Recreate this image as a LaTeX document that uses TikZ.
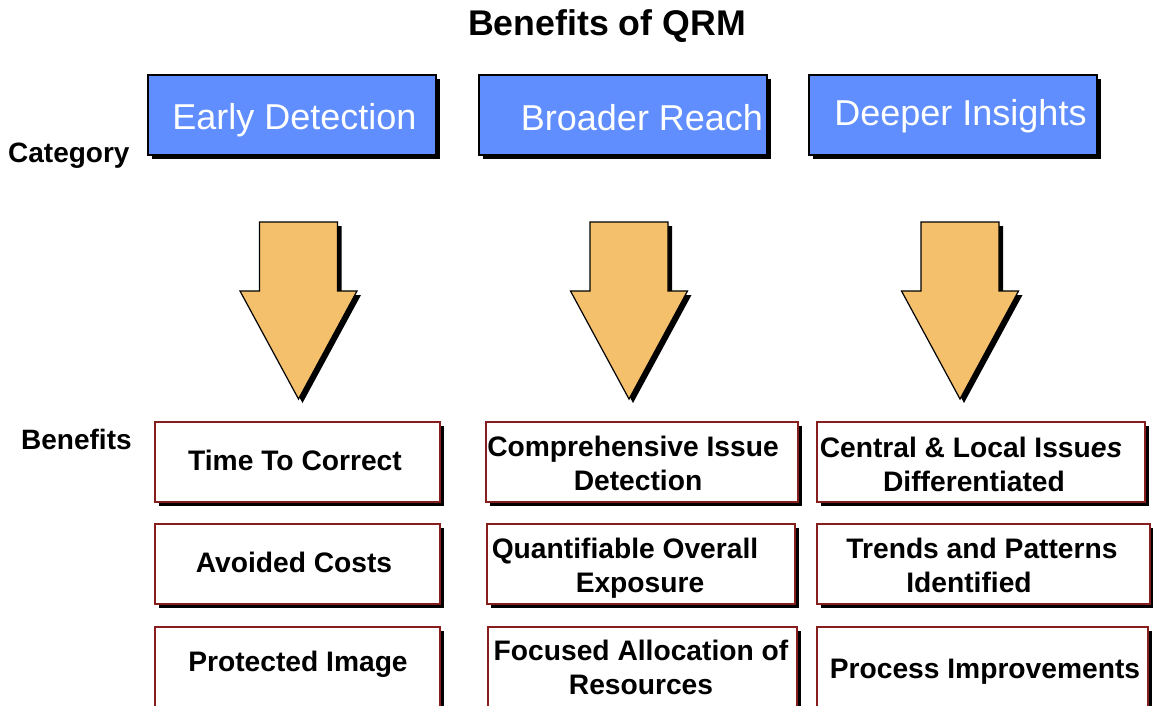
\documentclass[tikz,border=0pt]{standalone}
\usepackage{fontspec}
\setmainfont{Liberation Sans}
\usetikzlibrary{shadows}
\definecolor{catblue}{RGB}{96,142,255}
\definecolor{arrorange}{RGB}{244,192,108}
\definecolor{boxred}{RGB}{135,30,30}
\tikzset{
  catbox/.style={rectangle, fill=catblue, draw=black, line width=1.3pt,
    minimum width=288pt, minimum height=80pt, inner sep=0pt,
    drop shadow={shadow xshift=4pt, shadow yshift=-4pt, fill=black, opacity=1}},
  cattext/.style={anchor=base, text=white, font=\fontsize{36}{40}\selectfont, inner sep=0pt},
  benbox/.style={rectangle, fill=white, draw=boxred, line width=1.2pt,
    minimum height=80pt, inner sep=0pt,
    drop shadow={shadow xshift=4pt, shadow yshift=-4pt, fill=black, opacity=1}},
  bentext/.style={anchor=base, align=center, font=\bfseries\fontsize{28.2}{34}\selectfont, inner sep=0pt},
  sidelabel/.style={anchor=base west, font=\bfseries\fontsize{28}{32}\selectfont, inner sep=0pt},
  downarr/.pic={
    \fill[black] (-35,4) -- (43,4) -- (43,73) -- (62.5,73) -- (4,181) -- (-54.5,73) -- (-35,73) -- cycle;
    \filldraw[fill=arrorange, draw=black, line width=1.2pt, line join=miter]
      (-39,0) -- (39,0) -- (39,69) -- (58.5,69) -- (0,177) -- (-58.5,69) -- (-39,69) -- cycle;
  }
}
\begin{document}
\begin{tikzpicture}[x=1pt,y=-1pt]
\useasboundingbox[fill=white] (0,0) rectangle (1153,705);
\begin{scope}
\clip (0,0) rectangle (1153,705);
% title
\node[anchor=base, font=\bfseries\fontsize{35.7}{40}\selectfont, inner sep=0pt] (title) at (607,35) {Benefits of QRM};
% side labels
\node[sidelabel] (lcat) at (8,162) {Category};
\node[sidelabel] (lben) at (21,449) {Benefits};
% category boxes
\node[catbox] (c1) at (292,115) {};
\node[catbox] (c2) at (623,115) {};
\node[catbox] (c3) at (953,115) {};
\node[cattext] (c1t) at (294.5,129) {Early Detection};
\node[cattext] (c2t) at (642,130) {Broader Reach};
\node[cattext] (c3t) at (960.5,125) {Deeper Insights};
% arrows
\pic (a1) at (298.5,222) {downarr};
\pic (a2) at (629,222) {downarr};
\pic (a3) at (960,222) {downarr};
% benefit boxes
\node[benbox, minimum width=285pt] (b11) at (297.5,462) {};
\node[benbox, minimum width=285pt] (b12) at (297.5,564) {};
\node[benbox, minimum width=285pt] (b13) at (297.5,667) {};
\node[benbox, minimum width=312pt] (b21) at (642,462) {};
\node[benbox, minimum width=308pt] (b22) at (641,564) {};
\node[benbox, minimum width=309pt] (b23) at (642.5,667) {};
\node[benbox, minimum width=328pt] (b31) at (981,462) {};
\node[benbox, minimum width=333pt] (b32) at (983.5,564) {};
\node[benbox, minimum width=331pt] (b33) at (982.5,667) {};
% benefit texts (two-line nodes: base is the last line)
\node[bentext] (t11) at (295,470) {Time To Correct};
\node[bentext] (t12) at (294,572) {Avoided Costs};
\node[bentext] (t13) at (298,671) {Protected Image};
\node[bentext] (t21) at (638,490) {Comprehensive Issue\hspace*{10pt}\\Detection};
\node[bentext] (t22) at (640,592) {Quantifiable Overall\hspace*{30pt}\\Exposure};
\node[bentext] (t23) at (641,694) {Focused Allocation of\\Resources};
\node[bentext] (t31) at (974,491) {Central \& Local Issu\textit{es}\hspace*{6pt}\\Differentiated};
\node[bentext] (t32) at (982,592) {Trends and Patterns\\Identified\hspace*{26pt}};
\node[bentext] (t33) at (985,678) {Process Improvements};
\end{scope}
\end{tikzpicture}
\end{document}
